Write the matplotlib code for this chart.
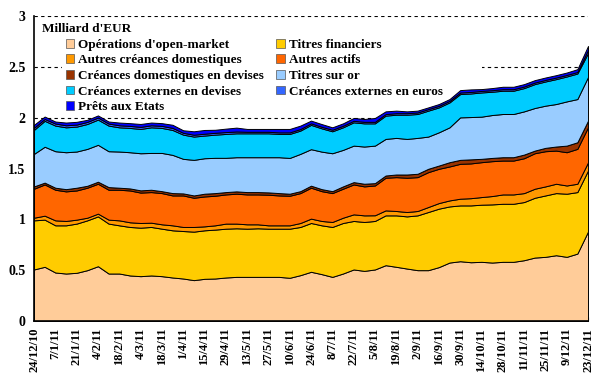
import numpy as np
import pandas as pd
import matplotlib
matplotlib.use("Agg")
import matplotlib.pyplot as plt
from matplotlib.patches import Rectangle

plt.rcParams['font.family'] = ['Liberation Serif', 'DejaVu Serif']
plt.rcParams['font.weight'] = 'bold'

# weekly dates, 24/12/10 -> 23/12/11
dates = pd.date_range("2010-12-24", periods=53, freq="7D")

# series values (EUR trillions)
open_market = [0.507, 0.533, 0.477, 0.467, 0.474, 0.500, 0.539, 0.467, 0.467, 0.448,
               0.441, 0.448, 0.441, 0.428, 0.418, 0.402, 0.415, 0.418, 0.428, 0.434,
               0.434, 0.434, 0.434, 0.434, 0.425, 0.451, 0.484, 0.461, 0.434, 0.467,
               0.507, 0.493, 0.507, 0.549, 0.533, 0.516, 0.500, 0.500, 0.530, 0.575,
               0.588, 0.578, 0.582, 0.575, 0.582, 0.582, 0.598, 0.624, 0.631, 0.647,
               0.631, 0.663, 0.880]
titres_fin = [0.483, 0.464, 0.464, 0.474, 0.484, 0.490, 0.490, 0.491, 0.474, 0.477,
              0.477, 0.477, 0.467, 0.464, 0.467, 0.477, 0.477, 0.481, 0.480, 0.478,
              0.474, 0.478, 0.474, 0.474, 0.483, 0.474, 0.480, 0.480, 0.491, 0.497,
              0.477, 0.481, 0.477, 0.490, 0.506, 0.513, 0.539, 0.572, 0.575, 0.552,
              0.549, 0.559, 0.562, 0.572, 0.571, 0.571, 0.572, 0.588, 0.604, 0.611,
              0.621, 0.605, 0.600]
autres_creances = [0.026, 0.039, 0.049, 0.043, 0.039, 0.026, 0.027, 0.039, 0.049, 0.046,
                   0.046, 0.042, 0.043, 0.049, 0.040, 0.046, 0.039, 0.042, 0.050, 0.046,
                   0.043, 0.039, 0.033, 0.033, 0.033, 0.039, 0.043, 0.043, 0.049, 0.052,
                   0.065, 0.065, 0.056, 0.049, 0.043, 0.043, 0.043, 0.049, 0.055, 0.059,
                   0.066, 0.071, 0.075, 0.082, 0.092, 0.092, 0.088, 0.089, 0.089, 0.092,
                   0.081, 0.082, 0.080]
autres_actifs = [0.285, 0.307, 0.301, 0.291, 0.287, 0.295, 0.294, 0.294, 0.301, 0.313,
                 0.299, 0.301, 0.307, 0.294, 0.310, 0.287, 0.294, 0.291, 0.287, 0.294,
                 0.294, 0.294, 0.301, 0.294, 0.291, 0.294, 0.304, 0.293, 0.284, 0.285,
                 0.294, 0.285, 0.293, 0.321, 0.333, 0.337, 0.333, 0.343, 0.337, 0.334,
                 0.343, 0.342, 0.343, 0.343, 0.333, 0.333, 0.343, 0.349, 0.346, 0.326,
                 0.327, 0.343, 0.345]
creances_dom_dev = [0.023, 0.018, 0.020, 0.022, 0.027, 0.019, 0.020, 0.026, 0.020, 0.020,
                    0.022, 0.023, 0.019, 0.023, 0.020, 0.023, 0.027, 0.026, 0.023, 0.023,
                    0.023, 0.023, 0.023, 0.023, 0.020, 0.019, 0.020, 0.020, 0.019, 0.023,
                    0.023, 0.026, 0.023, 0.022, 0.026, 0.032, 0.033, 0.033, 0.032, 0.042,
                    0.039, 0.040, 0.033, 0.032, 0.033, 0.033, 0.036, 0.026, 0.033, 0.040,
                    0.065, 0.065, 0.065]
titres_or = [0.320, 0.353, 0.359, 0.363, 0.356, 0.363, 0.363, 0.353, 0.356, 0.356,
             0.365, 0.362, 0.376, 0.376, 0.340, 0.350, 0.349, 0.347, 0.337, 0.336,
             0.343, 0.343, 0.346, 0.353, 0.352, 0.367, 0.359, 0.369, 0.373, 0.359,
             0.359, 0.366, 0.369, 0.360, 0.360, 0.350, 0.353, 0.317, 0.327, 0.343,
             0.418, 0.416, 0.415, 0.422, 0.425, 0.425, 0.425, 0.419, 0.415, 0.418,
             0.435, 0.425, 0.430]
creances_ext_dev = [0.236, 0.255, 0.252, 0.245, 0.245, 0.245, 0.248, 0.252, 0.238, 0.239,
                    0.239, 0.252, 0.246, 0.245, 0.238, 0.229, 0.223, 0.228, 0.235, 0.235,
                    0.235, 0.235, 0.235, 0.229, 0.236, 0.229, 0.239, 0.229, 0.216, 0.222,
                    0.229, 0.228, 0.219, 0.229, 0.228, 0.238, 0.235, 0.255, 0.245, 0.245,
                    0.229, 0.232, 0.238, 0.229, 0.229, 0.229, 0.229, 0.235, 0.238, 0.245,
                    0.245, 0.251, 0.235]
creances_ext_eur = [0.020, 0.018, 0.020, 0.020, 0.020, 0.020, 0.020, 0.020, 0.020, 0.020,
                    0.020, 0.020, 0.020, 0.020, 0.018, 0.018, 0.018, 0.018, 0.018, 0.018,
                    0.015, 0.015, 0.015, 0.015, 0.015, 0.015, 0.015, 0.015, 0.015, 0.015,
                    0.015, 0.015, 0.015, 0.015, 0.015, 0.015, 0.015, 0.015, 0.015, 0.015,
                    0.015, 0.015, 0.015, 0.015, 0.015, 0.015, 0.015, 0.015, 0.015, 0.015,
                    0.015, 0.015, 0.030]
prets_etats = [0.030, 0.024, 0.020, 0.027, 0.027, 0.021, 0.021, 0.020, 0.027, 0.027,
               0.029, 0.027, 0.027, 0.031, 0.025, 0.034, 0.037, 0.030, 0.034, 0.038,
               0.028, 0.028, 0.028, 0.034, 0.034, 0.034, 0.027, 0.027, 0.024, 0.024,
               0.028, 0.028, 0.038, 0.027, 0.025, 0.018, 0.018, 0.017, 0.018, 0.018,
               0.024, 0.025, 0.018, 0.021, 0.024, 0.024, 0.024, 0.024, 0.024, 0.024,
               0.024, 0.028, 0.040]

labels = ["Opérations d'open-market", "Titres financiers", "Autres créances domestiques",
          "Autres actifs", "Créances domestiques en devises", "Titres sur or",
          "Créances externes en devises", "Créances externes en euros", "Prêts aux Etats"]
colors = ['#FFCC99', '#FFCC00', '#FF9900', '#FF6600', '#993300',
          '#99CCFF', '#00CCFF', '#3366FF', '#0000FF']

x = np.arange(len(dates))
tick_pos = x[::2]
tick_lab = [f"{d.day}/{d.month}/{d:%y}" for d in dates[::2]]

fig = plt.figure(figsize=(6.06, 3.89), dpi=100)
ax = fig.add_axes([34/606, 68/389, 554/606, 305/389])

polys = ax.stackplot(x, open_market, titres_fin, autres_creances, autres_actifs,
                     creances_dom_dev, titres_or, creances_ext_dev, creances_ext_eur,
                     prets_etats, colors=colors, edgecolor='black', linewidth=0.7,
                     zorder=2)

ax.set_xlim(0, 52)
ax.set_ylim(0, 3)
ax.set_yticks(np.arange(0, 3.01, 0.5))
ax.set_yticklabels(['0', '0.5', '1', '1.5', '2', '2.5', '3'])
ax.set_xticks(tick_pos)
ax.set_xticklabels(tick_lab, rotation=90)
ax.tick_params(axis='y', length=0, labelsize=10, pad=6)
ax.tick_params(axis='x', direction='in', length=3, labelsize=9, pad=5)

ax.set_axisbelow(True)
ax.yaxis.grid(True, linestyle=(0, (3, 3)), color='black', linewidth=0.8, zorder=0.5)
for s in ['top', 'right']:
    ax.spines[s].set_visible(False)
ax.spines['left'].set_linewidth(1.2)
ax.spines['bottom'].set_linewidth(1.2)
ax.spines['left'].set_zorder(3)
ax.spines['bottom'].set_zorder(3)

# white box behind the legend (hides the grid line)
ax.add_patch(Rectangle((0.0505, 2.05), 0.7585, 0.85, transform=ax.get_yaxis_transform(),
                       facecolor='white', edgecolor='none', zorder=1))

ax.text(0.0144, 0.957, "Milliard d'EUR", transform=ax.transAxes, fontsize=9.5,
        fontweight='bold', va='center', ha='left', zorder=5)

order = [0, 2, 4, 6, 8, 1, 3, 5, 7]
leg = ax.legend([polys[i] for i in order], [labels[i] for i in order], ncol=2,
                loc='upper left', bbox_to_anchor=(0.045, 0.947), frameon=False,
                fontsize=9.5, borderpad=0, labelspacing=0.27, handlelength=0.65,
                handleheight=0.65, handletextpad=0.3, columnspacing=0.95)
leg.set_zorder(5)
for h in leg.legend_handles:
    h.set_linewidth(0.5)
    h.set_edgecolor('#555555')

fig.savefig("out.png", dpi=100)
